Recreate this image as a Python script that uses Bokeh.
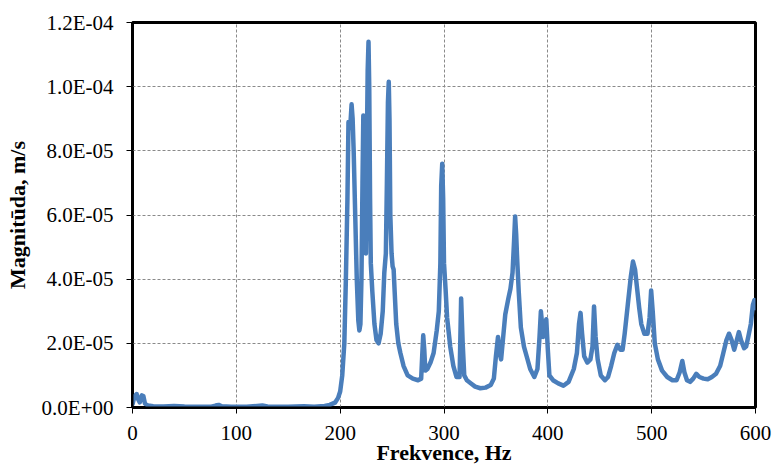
from bokeh.plotting import figure
from bokeh.models import Range1d, FixedTicker
from bokeh.embed import file_html
from bokeh.resources import INLINE

# Frequency response of the measured vibration velocity
freq_hz = [
    0, 2, 4, 5.5, 7, 9, 10.5, 12, 15, 20, 30, 40, 50, 60, 75, 80, 83, 86, 95,
    110, 120, 125, 130, 150, 165, 175, 185, 190, 195, 198, 200, 202, 204,
    205.5, 207, 208, 209, 210, 211, 212, 213, 214.5, 216, 217.5, 218.5, 219.5,
    220.5, 221.5, 222.3, 223, 224, 224.8, 225.5, 226.5, 227.3, 228, 228.8,
    229.5, 231, 233, 235, 237, 239, 241, 242.5, 244, 245, 246, 246.8, 247.5,
    248.3, 249.5, 250.5, 251.5, 252.5, 254, 256, 258, 261, 265, 270, 275, 278,
    279, 280, 281, 282, 284, 287, 290, 293, 295, 296.5, 297.3, 298.3, 299.2,
    300, 301.5, 303, 306, 309, 312, 315, 316.5, 318, 319.5, 322, 326, 330,
    335, 340, 345, 348, 350, 352, 353.5, 355, 357, 359, 362, 364, 366, 367.5,
    368.5, 369.5, 370.5, 372, 374, 377, 380, 383, 387, 390, 392, 393.3, 394.5,
    395.5, 397, 398.5, 400, 401.5, 405, 410, 415, 420, 425, 428, 430, 431.5,
    433, 435, 438, 441, 443, 444.5, 446, 448, 451, 455, 458, 461, 464, 467,
    470, 472, 474, 477, 480, 482, 484, 486, 488, 490, 493, 496, 498, 499.5,
    501, 503, 506, 510, 515, 520, 524, 527, 529.5, 531.5, 534, 537, 540, 543,
    546, 550, 554, 558, 562, 566, 569, 572, 574.5, 577, 579.5, 582, 584, 586,
    589, 591, 593, 595.5, 597.5, 599, 600,
]
magnitude = [
    1.0e-6, 3.5e-6, 4.2e-6, 2.5e-6, 1.6e-6, 3.8e-6, 3.5e-6, 1.2e-6, 6e-7,
    4e-7, 3e-7, 5e-7, 3e-7, 2e-7, 2e-7, 6e-7, 8e-7, 4e-7, 2e-7, 2e-7, 5e-7,
    6e-7, 3e-7, 2e-7, 4e-7, 2e-7, 5e-7, 8e-7, 1.5e-6, 3e-6, 5e-6, 1.0e-5,
    2.0e-5, 4.0e-5, 6.5e-5, 8.9e-5, 8.7e-5, 8.9e-5, 9.45e-5, 9.0e-5, 8.0e-5,
    6.0e-5, 4.0e-5, 2.7e-5, 2.4e-5, 2.6e-5, 4.0e-5, 7.0e-5, 9.1e-5, 8.5e-5,
    6.0e-5, 4.8e-5, 7.5e-5, 1.05e-4, 1.14e-4, 1.0e-4, 6.5e-5, 4.5e-5, 3.6e-5,
    2.6e-5, 2.1e-5, 2.0e-5, 2.3e-5, 3.0e-5, 4.2e-5, 4.8e-5, 7.0e-5, 9.5e-5,
    1.015e-4, 9.0e-5, 6.0e-5, 4.8e-5, 4.4e-5, 4.3e-5, 3.6e-5, 2.6e-5, 2.0e-5,
    1.7e-5, 1.3e-5, 1.0e-5, 9e-6, 8.5e-6, 9e-6, 1.6e-5, 2.25e-5, 1.8e-5,
    1.15e-5, 1.2e-5, 1.4e-5, 1.7e-5, 2.4e-5, 3.0e-5, 4.5e-5, 6.9e-5, 7.6e-5,
    6.5e-5, 4.5e-5, 3.7e-5, 2.8e-5, 1.9e-5, 1.3e-5, 9.5e-6, 9.5e-6, 3.4e-5,
    2.0e-5, 1.0e-5, 8.5e-6, 7.5e-6, 6.5e-6, 6e-6, 6.2e-6, 7e-6, 9e-6, 1.6e-5,
    2.2e-5, 1.7e-5, 1.5e-5, 2.2e-5, 2.9e-5, 3.4e-5, 3.7e-5, 4.2e-5, 5.2e-5,
    5.95e-5, 5.4e-5, 4.6e-5, 3.6e-5, 2.5e-5, 1.9e-5, 1.55e-5, 1.2e-5, 9.5e-6,
    1.2e-5, 2.2e-5, 3.0e-5, 2.6e-5, 2.2e-5, 2.5e-5, 2.75e-5, 1.8e-5, 1.0e-5,
    8.5e-6, 7.5e-6, 6.8e-6, 8e-6, 1.2e-5, 1.7e-5, 2.6e-5, 2.95e-5, 2.3e-5,
    1.6e-5, 1.4e-5, 1.5e-5, 1.9e-5, 3.15e-5, 2.2e-5, 1.5e-5, 1.0e-5, 8.5e-6,
    9.5e-6, 1.3e-5, 1.7e-5, 1.95e-5, 1.8e-5, 1.8e-5, 2.3e-5, 3.2e-5, 4.1e-5,
    4.55e-5, 4.3e-5, 3.7e-5, 3.1e-5, 2.6e-5, 2.3e-5, 2.3e-5, 2.8e-5, 3.65e-5,
    3.0e-5, 2.0e-5, 1.5e-5, 1.15e-5, 9.5e-6, 8.5e-6, 8.5e-6, 1.1e-5, 1.45e-5,
    1.1e-5, 8.5e-6, 8e-6, 9e-6, 1.05e-5, 9.5e-6, 9e-6, 8.8e-6, 9.5e-6,
    1.05e-5, 1.3e-5, 1.7e-5, 2.1e-5, 2.3e-5, 2.1e-5, 1.8e-5, 2.1e-5, 2.35e-5,
    2.1e-5, 1.85e-5, 1.9e-5, 2.2e-5, 2.6e-5, 3.2e-5, 3.35e-5, 3.1e-5,
]

x_ticks = [0, 100, 200, 300, 400, 500, 600]
x_tick_labels = ["0", "100", "200", "300", "400", "500", "600"]
y_ticks = [0.0, 2e-5, 4e-5, 6e-5, 8e-5, 1e-4, 1.2e-4]
y_tick_labels = ["0.0E+00", "2.0E-05", "4.0E-05", "6.0E-05",
                 "8.0E-05", "1.0E-04", "1.2E-04"]

x_title = "Frekvence, Hz"
y_title = "Magnitūda, m/s"

SERIF = "Liberation Serif"

p = figure(
    width=773, height=467,
    x_range=Range1d(0, 600), y_range=Range1d(0, 1.2e-4),
    output_backend="svg", toolbar_location=None,
    min_border_left=132, min_border_right=18,
    min_border_top=22, min_border_bottom=60,
)
p.background_fill_color = "white"
p.border_fill_color = "white"
p.outline_line_color = "black"
p.outline_line_width = 3

p.line(freq_hz, magnitude, line_color="#4a7ebb", line_width=4.5,
       line_join="round", line_cap="round")

p.xaxis.ticker = FixedTicker(ticks=x_ticks)
p.yaxis.ticker = FixedTicker(ticks=y_ticks)
p.xaxis.major_label_overrides = dict(zip(x_ticks, x_tick_labels))
p.yaxis.major_label_overrides = dict(zip(y_ticks, y_tick_labels))

for ax in (p.xaxis[0], p.yaxis[0]):
    ax.axis_line_color = "black"
    ax.axis_line_width = 2
    ax.major_tick_line_color = "black"
    ax.major_tick_line_width = 1
    ax.major_tick_in = 0
    ax.major_tick_out = 6
    ax.minor_tick_line_color = None
    ax.major_label_text_font = SERIF
    ax.major_label_text_font_size = "21px"
    ax.major_label_text_color = "black"
    ax.axis_label_text_font = SERIF
    ax.axis_label_text_font_size = "22px"
    ax.axis_label_text_font_style = "bold"
    ax.axis_label_text_color = "black"
    ax.major_label_standoff = 13

p.xaxis.major_label_standoff = 12
p.xaxis.axis_label = x_title
p.yaxis.axis_label = y_title
p.xaxis.axis_label_standoff = -3
p.yaxis.axis_label_standoff = 9

for g in (p.xgrid[0], p.ygrid[0]):
    g.grid_line_color = "#8a8a8a"
    g.grid_line_width = 1
    g.grid_line_dash = "3 2"

open("out.html", "w").write(file_html(p, INLINE))
